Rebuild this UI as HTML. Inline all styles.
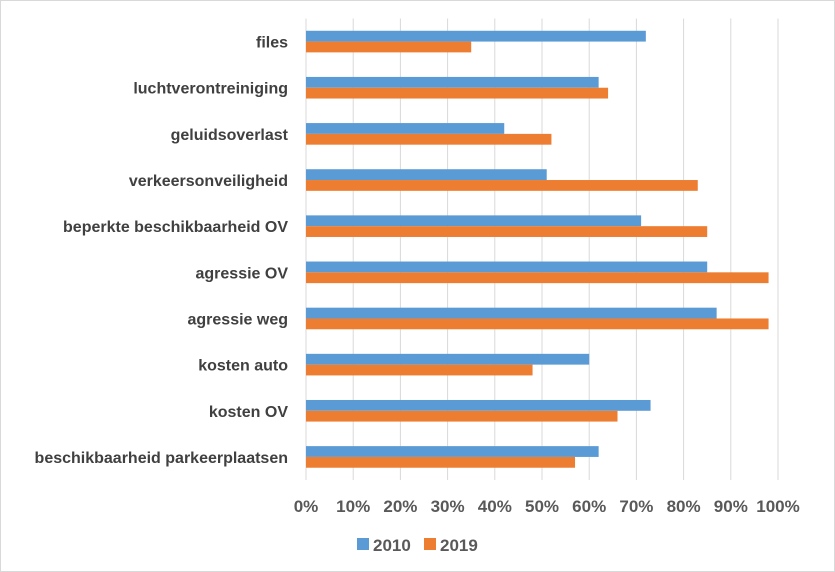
<!DOCTYPE html>
<html><head><meta charset="utf-8"><style>
body{margin:0;background:#fff}
svg{display:block;font-family:"Liberation Sans",sans-serif}
</style></head><body>
<svg id="chart" width="835" height="572">
<rect x="0.5" y="0.5" width="834" height="571" fill="#fff" stroke="#d9d9d9"/>
<g id="grid"></g><g id="bars"></g><g id="ylabels"></g><g id="xlabels"></g>
<g>
<rect x="357" y="538" width="12" height="12" fill="#5b9bd5"/>
<text x="373" y="551" font-size="17" font-weight="bold" fill="#595959">2010</text>
<rect x="424" y="538" width="12" height="12" fill="#ed7d31"/>
<text x="440" y="551" font-size="17" font-weight="bold" fill="#595959">2019</text>
</g>
</svg>
<script>
const categories=["files","luchtverontreiniging","geluidsoverlast","verkeersonveiligheid","beperkte beschikbaarheid OV","agressie OV","agressie weg","kosten auto","kosten OV","beschikbaarheid parkeerplaatsen"];
const values2010=[72,62,42,51,71,85,87,60,73,62];
const values2019=[35,64,52,83,85,98,98,48,66,57];
const ticks=[0,10,20,30,40,50,60,70,80,90,100];
const NS="http://www.w3.org/2000/svg";
const x0=306,x1=778,yTop=18.5,yBot=480,band=(yBot-yTop)/categories.length,bh=10.8;
const xs=v=>x0+(x1-x0)*v/100;
const yc=i=>yTop+band*(i+0.5);
function mk(t,a,p){const e=document.createElementNS(NS,t);for(const k in a)e.setAttribute(k,a[k]);document.getElementById(p).appendChild(e);return e;}
ticks.forEach(t=>{
 const l=mk("line",{x1:xs(t),x2:xs(t),y1:yTop,y2:yBot,stroke:"#d9d9d9","stroke-width":1},"grid");
 
 
 const tx=mk("text",{x:xs(t),y:512,"text-anchor":"middle","font-size":"17","font-weight":"bold",fill:"#595959"},"xlabels");
 tx.textContent=t+"%";
 
 
});
categories.forEach((c,i)=>{
 const b1=mk("rect",{x:x0,y:yc(i)-bh,width:xs(values2010[i])-x0,height:bh,fill:"#5b9bd5"},"bars");
 
 
 const b2=mk("rect",{x:x0,y:yc(i),width:xs(values2019[i])-x0,height:bh,fill:"#ed7d31"},"bars");
 
 
 const t=mk("text",{x:288,y:yc(i)+6,"text-anchor":"end","font-size":"16","font-weight":"bold",fill:"#404040"},"ylabels");
 t.textContent=c;
 
 
});
</script>
</body></html>
